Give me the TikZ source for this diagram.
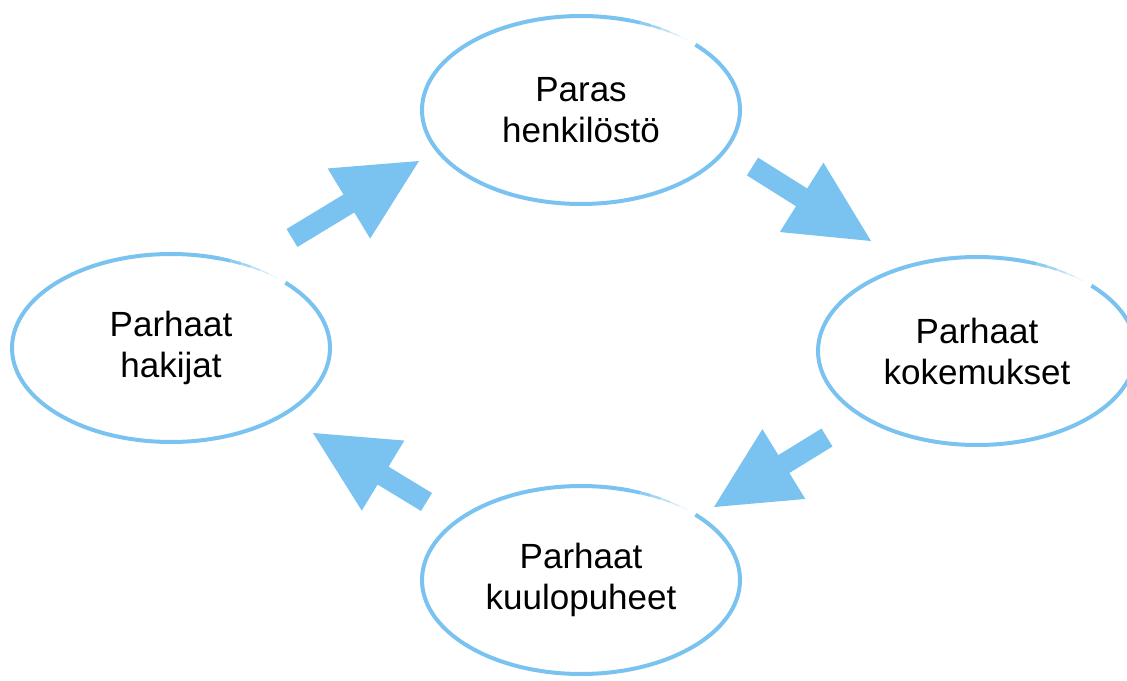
\documentclass[tikz,border=0pt]{standalone}
\usepackage{fontspec}
\setmainfont{Liberation Sans}
\usetikzlibrary{shapes.geometric,calc}
\definecolor{sky}{HTML}{7AC3F0}
\tikzset{
  bubble/.style={ellipse,minimum width=159pt,minimum height=94pt,inner sep=0pt,align=center,font=\fontsize{17.5}{20.5}\selectfont},
  rim/.style={draw=sky,line width=2pt},
  flow/.style={fill=sky,draw=none}
}
% outline with the small fading gap at the upper right
\newcommand{\rim}[1]{%
  \draw[rim] (#1.center) ++(44:79.5pt and 47pt) arc[start angle=44,end angle=-288,x radius=79.5pt,y radius=47pt];
  \foreach \a/\w/\o in {72/1.8pt/1,68/1.5pt/.85,64/1.2pt/.7,60/.9pt/.5,56/.6pt/.35,52/.3pt/.2}
    \draw[rim,line width=\w,draw opacity=\o] (#1.center) ++(\a:79.5pt and 47pt) arc[start angle=\a,end angle=\a-4,x radius=79.5pt,y radius=47pt];
}
% block arrow from tail to tip
\newcommand{\flowarrow}[2]{%
  \coordinate (hb) at ($(#2)!41pt!(#1)$);
  \fill[flow] ($(#1)!5.25pt!90:(#2)$) -- ($(hb)!5.25pt!90:(#2)$) -- ($(hb)!20.5pt!90:(#2)$) -- (#2)
    -- ($(hb)!20.5pt!-90:(#2)$) -- ($(hb)!5.25pt!-90:(#2)$) -- ($(#1)!5.25pt!-90:(#2)$) -- cycle;
}

\begin{document}
\begin{tikzpicture}[x=0.5pt,y=0.5pt]
  \useasboundingbox (0,0) rectangle (1127,680);
  \node[bubble] (henk) at (581,570) {Paras\\henkilöstö};
  \node[bubble] (koke) at (977,329) {Parhaat\\kokemukset};
  \node[bubble] (kuulo) at (581,100) {Parhaat\\kuulopuheet};
  \node[bubble] (haki) at (171,332) {Parhaat\\hakijat};
  \rim{henk}
  \rim{koke}
  \rim{kuulo}
  \rim{haki}
  % arrow ends
  \coordinate (haki-out) at ([shift={(121,110)}]haki.center);
  \coordinate (henk-in) at ([shift={(-162,-51)}]henk.center);
  \coordinate (henk-out) at ([shift={(171.5,-56.5)}]henk.center);
  \coordinate (koke-in) at ([shift={(-106,110)}]koke.center);
  \coordinate (koke-out) at ([shift={(-150,-86.5)}]koke.center);
  \coordinate (kuulo-in) at ([shift={(133,73)}]kuulo.center);
  \coordinate (kuulo-out) at ([shift={(-154.5,78)}]kuulo.center);
  \coordinate (haki-in) at ([shift={(142,-85)}]haki.center);
  \flowarrow{haki-out}{henk-in}
  \flowarrow{henk-out}{koke-in}
  \flowarrow{koke-out}{kuulo-in}
  \flowarrow{kuulo-out}{haki-in}
\end{tikzpicture}
\end{document}
